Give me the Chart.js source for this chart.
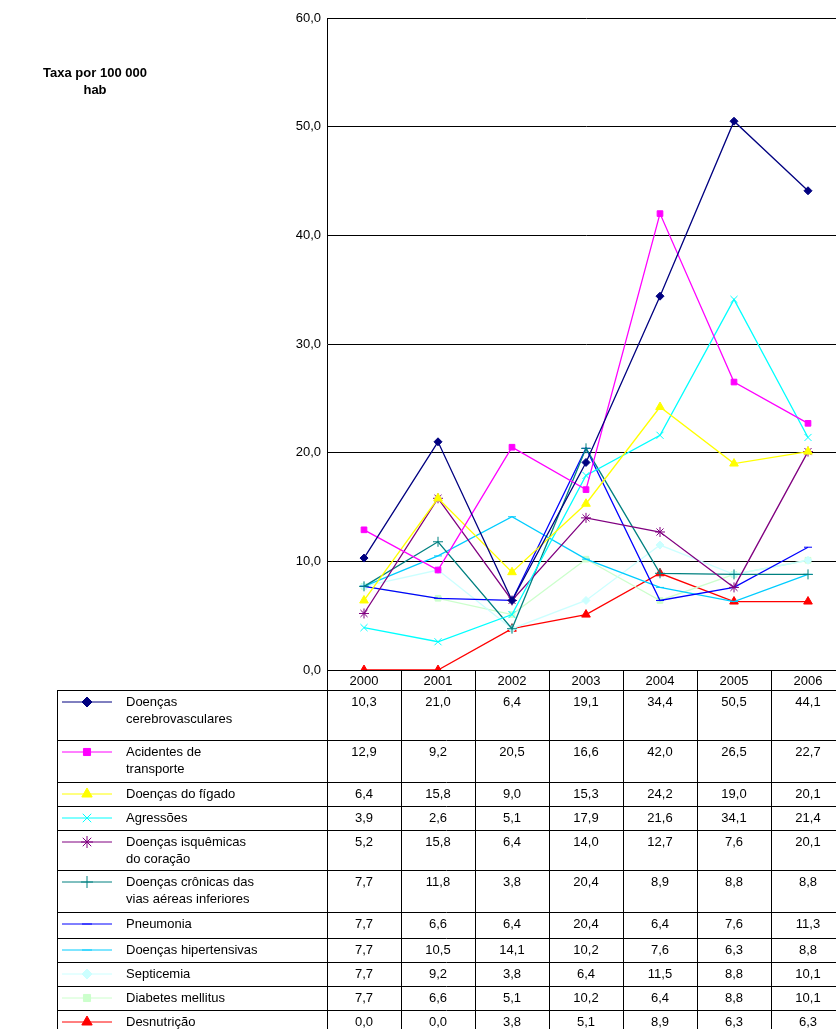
<!DOCTYPE html>
<html>
<head>
<meta charset="utf-8">
<script src="https://cdn.jsdelivr.net/npm/chart.js@4.4.1/dist/chart.umd.min.js"></script>
<style>
  html, body { margin: 0; padding: 0; background: #fff; overflow: hidden; }
  #wrap { position: relative; width: 851px; height: 1029px; }
</style>
</head>
<body>
<div id="wrap"><canvas id="c"></canvas></div>
<script>
// dados
const anos = ['2000', '2001', '2002', '2003', '2004', '2005', '2006'];
const yTicks = [0, 10, 20, 30, 40, 50, 60];

const cerebro = [10.3, 21.0, 6.4, 19.1, 34.4, 50.5, 44.1];
const acidentes = [12.9, 9.2, 20.5, 16.6, 42.0, 26.5, 22.7];
const figado = [6.4, 15.8, 9.0, 15.3, 24.2, 19.0, 20.1];
const agressoes = [3.9, 2.6, 5.1, 17.9, 21.6, 34.1, 21.4];
const isquemicas = [5.2, 15.8, 6.4, 14.0, 12.7, 7.6, 20.1];
const cronicas = [7.7, 11.8, 3.8, 20.4, 8.9, 8.8, 8.8];
const pneumonia = [7.7, 6.6, 6.4, 20.4, 6.4, 7.6, 11.3];
const hipertensivas = [7.7, 10.5, 14.1, 10.2, 7.6, 6.3, 8.8];
const septicemia = [7.7, 9.2, 3.8, 6.4, 11.5, 8.8, 10.1];
const diabetes = [7.7, 6.6, 5.1, 10.2, 6.4, 8.8, 10.1];
const desnutricao = [0.0, 0.0, 3.8, 5.1, 8.9, 6.3, 6.3];

const series = [
  { label: ['Doenças', 'cerebrovasculares'], data: cerebro, color: '#000080', style: 'rectRot', r: 4, h: 50 },
  { label: ['Acidentes de', 'transporte'], data: acidentes, color: '#FF00FF', style: 'rect', r: 4, h: 42 },
  { label: ['Doenças do fígado'], data: figado, color: '#FFFF00', style: 'triangle', r: 5, h: 24 },
  { label: ['Agressões'], data: agressoes, color: '#00FFFF', style: 'crossRot', r: 5, h: 24 },
  { label: ['Doenças isquêmicas', 'do coração'], data: isquemicas, color: '#800080', style: 'star', r: 5, h: 40 },
  { label: ['Doenças crônicas das', 'vias aéreas inferiores'], data: cronicas, color: '#008080', style: 'cross', r: 5, h: 42 },
  { label: ['Pneumonia'], data: pneumonia, color: '#0000FF', style: 'line', r: 4, h: 26 },
  { label: ['Doenças hipertensivas'], data: hipertensivas, color: '#00CCFF', style: 'line', r: 4, h: 24 },
  { label: ['Septicemia'], data: septicemia, color: '#CCFFFF', style: 'rectRot', r: 4, h: 24 },
  { label: ['Diabetes mellitus'], data: diabetes, color: '#CCFFCC', style: 'rect', r: 4, h: 24 },
  { label: ['Desnutrição'], data: desnutricao, color: '#FF0000', style: 'triangle', r: 5, h: 19 }
];

const fmt = v => v.toFixed(1).replace('.', ',');
const FONT = '13px "Liberation Sans", Arial, sans-serif';

const tablePlugin = {
  id: 'tabela',
  afterDraw(chart) {
    const ctx = chart.ctx;
    const x = chart.scales.x;
    const area = chart.chartArea;
    const left = 57, right = 836;
    const colW = (area.right - area.left) / anos.length;
    ctx.save();
    ctx.strokeStyle = '#000';
    ctx.lineWidth = 1;
    ctx.font = FONT;
    ctx.fillStyle = '#000';
    ctx.textBaseline = 'middle';

    // cabeçalho
    let y = area.bottom;
    const headH = 20;
    ctx.textAlign = 'center';
    anos.forEach((a, i) => ctx.fillText(a, x.getPixelForValue(i), y + 11));
    for (let i = 0; i <= anos.length; i++) {
      const cx = Math.round(area.left + i * colW) + 0.5;
      ctx.beginPath(); ctx.moveTo(cx, y); ctx.lineTo(cx, 1029); ctx.stroke();
    }
    y += headH;
    ctx.beginPath(); ctx.moveTo(left, y + 0.5); ctx.lineTo(right, y + 0.5); ctx.stroke();
    ctx.beginPath(); ctx.moveTo(left + 0.5, y); ctx.lineTo(left + 0.5, 1029); ctx.stroke();

    series.forEach(s => {
      const ty = y + 12;
      // amostra da legenda
      ctx.strokeStyle = s.color; ctx.fillStyle = s.color; ctx.lineWidth = 1;
      ctx.beginPath(); ctx.moveTo(62, ty); ctx.lineTo(112, ty); ctx.stroke();
      Chart.helpers.drawPoint(ctx, { pointStyle: s.style, radius: s.r + 1, borderWidth: 1, rotation: 0 }, 87, ty);
      ctx.fillStyle = '#000'; ctx.strokeStyle = '#000';
      ctx.textAlign = 'left';
      s.label.forEach((l, k) => ctx.fillText(l, 126, ty + k * 17));
      ctx.textAlign = 'center';
      s.data.forEach((v, i) => ctx.fillText(fmt(v), x.getPixelForValue(i), ty));
      y += s.h;
      ctx.beginPath(); ctx.moveTo(left, y + 0.5); ctx.lineTo(right, y + 0.5); ctx.stroke();
    });

    // título do eixo
    ctx.font = 'bold 13px "Liberation Sans", Arial, sans-serif';
    ctx.textAlign = 'center';
    ctx.fillText('Taxa por 100 000', 95, 73);
    ctx.fillText('hab', 95, 90);
    ctx.restore();
  }
};

new Chart(document.getElementById('c'), {
  type: 'line',
  data: {
    labels: anos,
    datasets: series.map(s => ({
      label: s.label.join(' '),
      data: s.data,
      borderColor: s.color,
      backgroundColor: s.color,
      borderWidth: 1.3,
      pointStyle: s.style,
      pointRadius: s.r,
      pointBorderWidth: 1,
      tension: 0
    }))
  },
  options: {
    responsive: true,
    maintainAspectRatio: false,
    animation: false,
    layout: { padding: { left: 0, top: 18, right: 0, bottom: 359 } },
    plugins: { legend: { display: false }, tooltip: { enabled: false } },
    scales: {
      x: {
        display: false,
        offset: true
      },
      y: {
        min: 0,
        max: 60,
        afterFit: s => { s.width = 327; },
        afterBuildTicks: s => { s.ticks = yTicks.map(v => ({ value: v })); },
        ticks: {
          color: '#000',
          font: { family: '"Liberation Sans", Arial, sans-serif', size: 13 },
          callback: v => fmt(v),
          padding: 6
        },
        grid: { color: '#000', drawTicks: false },
        border: { color: '#000' }
      }
    }
  },
  plugins: [tablePlugin]
});
</script>
</body>
</html>
